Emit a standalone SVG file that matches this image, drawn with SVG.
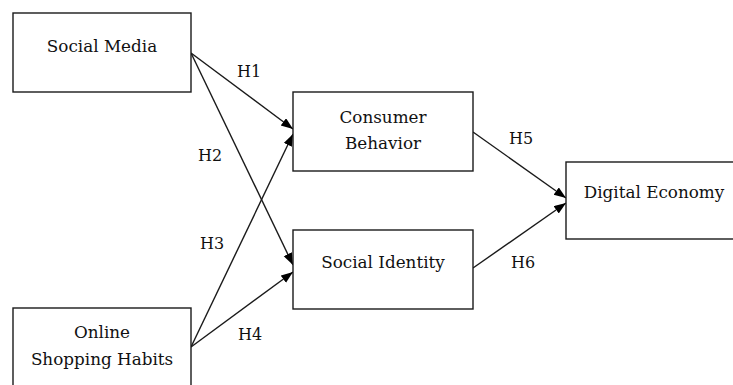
<svg xmlns="http://www.w3.org/2000/svg" width="733" height="385" viewBox="0 0 733 385">
<style>
.box{fill:#fff;stroke:#1a1a1a;stroke-width:1.4}
.t{font-family:"DejaVu Serif","Liberation Serif",serif;font-size:16.8px;fill:#111;text-anchor:middle}
.lbl{font-family:"DejaVu Serif","Liberation Serif",serif;font-size:16px;fill:#111;text-anchor:middle}
.edge{stroke:#1a1a1a;stroke-width:1.4;fill:none;marker-end:url(#ah)}
</style>
<defs>
<marker id="ah" markerUnits="userSpaceOnUse" markerWidth="13" markerHeight="10" refX="12" refY="4.5" orient="auto">
<path d="M0,0 L12,4.5 L0,9 z" fill="#000"/>
</marker>
</defs>
<rect width="733" height="385" fill="#fff"/>
<g id="connectors">
<line class="edge" x1="191" y1="53" x2="293" y2="129"/>
<line class="edge" x1="191" y1="53" x2="293" y2="265"/>
<line class="edge" x1="191" y1="347" x2="293" y2="134"/>
<line class="edge" x1="191" y1="347" x2="293" y2="272"/>
<line class="edge" x1="473" y1="132" x2="566" y2="198"/>
<line class="edge" x1="473" y1="268" x2="566" y2="203"/>
<text class="lbl" x="249" y="77">H1</text>
<text class="lbl" x="210" y="161">H2</text>
<text class="lbl" x="212" y="249">H3</text>
<text class="lbl" x="250" y="340">H4</text>
<text class="lbl" x="521" y="144">H5</text>
<text class="lbl" x="523" y="268">H6</text>
</g>
<g id="social-media">
<rect class="box" x="13" y="13" width="178" height="79"/>
<text class="t" x="102" y="52">Social Media</text>
</g>
<g id="online-shopping-habits">
<rect class="box" x="13" y="308" width="178" height="90"/>
<text class="t" x="102" y="338">Online</text>
<text class="t" x="102" y="365">Shopping Habits</text>
</g>
<g id="consumer-behavior">
<rect class="box" x="293" y="92" width="180" height="79"/>
<text class="t" x="383" y="123">Consumer</text>
<text class="t" x="383" y="149">Behavior</text>
</g>
<g id="social-identity">
<rect class="box" x="293" y="230" width="180" height="79"/>
<text class="t" x="383" y="268">Social Identity</text>
</g>
<g id="digital-economy">
<rect class="box" x="566" y="162" width="180" height="77"/>
<text class="t" x="654" y="198">Digital Economy</text>
</g>
</svg>
